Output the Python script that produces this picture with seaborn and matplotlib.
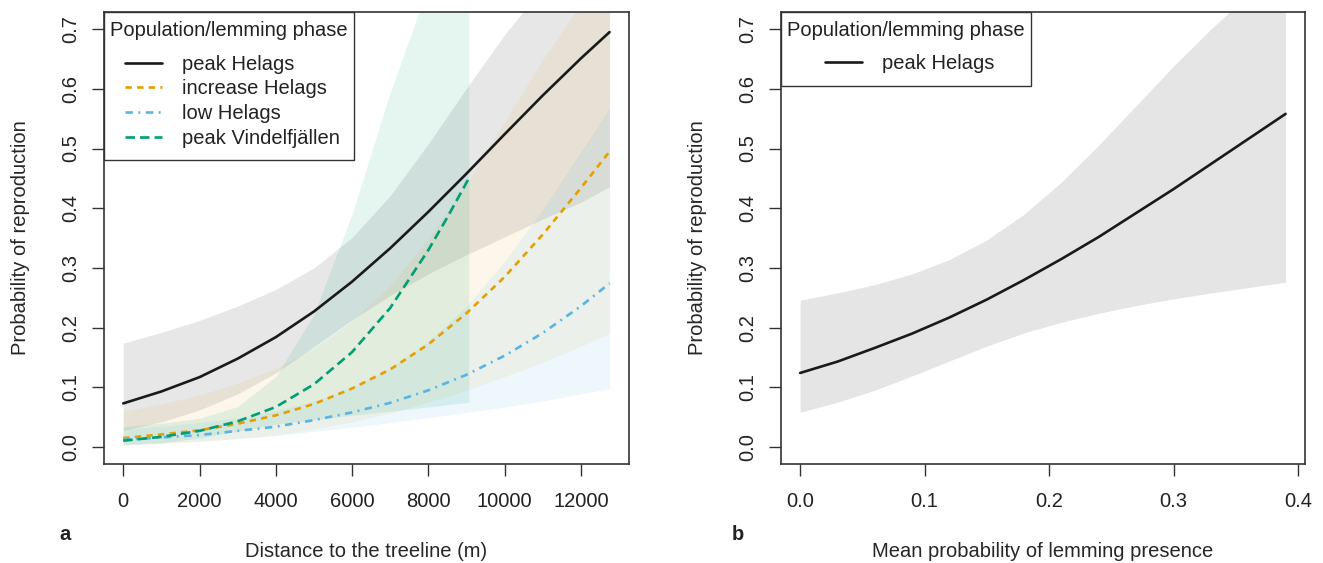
import matplotlib
matplotlib.use("Agg")
import matplotlib.pyplot as plt
from matplotlib.patches import Rectangle
import seaborn as sns
import pandas as pd

# --- panel a: distance to the treeline (m) ---
dist_x = [0, 1000, 2000, 3000, 4000, 5000, 6000, 7000, 8000, 9000, 10000, 11000, 12000, 12750]

peak_helags_fit = [0.073, 0.093, 0.117, 0.148, 0.184, 0.227, 0.277, 0.333, 0.394, 0.458, 0.524, 0.589, 0.651, 0.695]
peak_helags_lo = [0.028, 0.042, 0.062, 0.089, 0.124, 0.168, 0.213, 0.254, 0.290, 0.322, 0.352, 0.382, 0.410, 0.436]
peak_helags_hi = [0.174, 0.192, 0.212, 0.236, 0.264, 0.300, 0.351, 0.421, 0.508, 0.601, 0.691, 0.769, 0.834, 0.872]

increase_fit = [0.015, 0.021, 0.028, 0.039, 0.053, 0.072, 0.098, 0.130, 0.172, 0.224, 0.285, 0.356, 0.434, 0.495]
increase_lo = [0.004, 0.006, 0.009, 0.014, 0.020, 0.030, 0.042, 0.057, 0.075, 0.095, 0.118, 0.142, 0.169, 0.190]
increase_hi = [0.060, 0.072, 0.087, 0.107, 0.132, 0.165, 0.211, 0.271, 0.348, 0.441, 0.545, 0.649, 0.743, 0.803]

low_fit = [0.012, 0.016, 0.020, 0.027, 0.034, 0.045, 0.058, 0.074, 0.095, 0.121, 0.153, 0.191, 0.236, 0.274]
low_lo = [0.005, 0.007, 0.010, 0.014, 0.019, 0.026, 0.033, 0.041, 0.049, 0.058, 0.067, 0.077, 0.089, 0.098]
low_hi = [0.030, 0.035, 0.041, 0.049, 0.061, 0.077, 0.100, 0.132, 0.177, 0.236, 0.311, 0.398, 0.495, 0.568]

vindel_x = [0, 1000, 2000, 3000, 4000, 5000, 6000, 7000, 8000, 8500, 9060]
vindel_fit = [0.0105, 0.017, 0.027, 0.043, 0.067, 0.105, 0.159, 0.233, 0.330, 0.385, 0.450]
vindel_lo = [0.003, 0.007, 0.015, 0.027, 0.038, 0.046, 0.053, 0.060, 0.067, 0.071, 0.075]
vindel_hi = [0.034, 0.040, 0.048, 0.068, 0.118, 0.222, 0.390, 0.594, 0.772, 0.837, 0.892]

# --- panel b: mean probability of lemming presence ---
lemming_x = [0.0, 0.03, 0.06, 0.09, 0.12, 0.15, 0.18, 0.21, 0.24, 0.27, 0.30, 0.33, 0.36, 0.39]
lemming_fit = [0.124, 0.143, 0.166, 0.190, 0.217, 0.247, 0.280, 0.315, 0.352, 0.392, 0.432, 0.474, 0.516, 0.558]
lemming_lo = [0.058, 0.075, 0.095, 0.119, 0.144, 0.169, 0.191, 0.209, 0.224, 0.237, 0.248, 0.258, 0.267, 0.276]
lemming_hi = [0.246, 0.258, 0.272, 0.290, 0.314, 0.347, 0.390, 0.444, 0.506, 0.572, 0.638, 0.700, 0.757, 0.807]

dist_ticks = [0, 2000, 4000, 6000, 8000, 10000, 12000]
lemming_ticks = [0.0, 0.1, 0.2, 0.3, 0.4]
prob_ticks = [0.0, 0.1, 0.2, 0.3, 0.4, 0.5, 0.6, 0.7]

legend_title = "Population/lemming phase"

sns.set_theme(style="ticks")
plt.rcParams["font.family"] = ["Liberation Sans", "DejaVu Sans"]
plt.rcParams["text.color"] = "#222222"

FS = 14.5
INK = "#333333"

series = [
    # label, x, fit, lo, hi, colour, linestyle, band alpha
    ("peak Helags", dist_x, peak_helags_fit, peak_helags_lo, peak_helags_hi, "#1a1a1a", "-", 0.1),
    ("increase Helags", dist_x, increase_fit, increase_lo, increase_hi, "#E69F00", (0, (2.4, 2.0)), 0.08),
    ("low Helags", dist_x, low_fit, low_lo, low_hi, "#56B4E9", (0, (2.8, 2.1, 0.7, 2.1)), 0.1),
    ("peak Vindelfjällen", vindel_x, vindel_fit, vindel_lo, vindel_hi, "#009E73", (0, (3.6, 1.9)), 0.1),
]

W, H = 1323, 563
fig = plt.figure(figsize=(W / 100, H / 100), dpi=100)
top_px, bot_px = 12.4, 463.7
ax1 = fig.add_axes([103.8 / W, 1 - bot_px / H, (629.0 - 103.8) / W, (bot_px - top_px) / H])
ax2 = fig.add_axes([780.7 / W, 1 - bot_px / H, (1305.0 - 780.7) / W, (bot_px - top_px) / H])
AX_H = bot_px - top_px


def style_axes(ax):
    for s in ax.spines.values():
        s.set_visible(True)
        s.set_color(INK)
        s.set_linewidth(1.2)
    ax.set_ylim(-0.028, 0.728)
    ax.set_yticks(prob_ticks)
    ax.set_yticklabels([f"{v:.1f}" for v in prob_ticks])
    ax.tick_params(axis="both", direction="out", length=8.6, width=1.0, color=INK,
                   labelsize=FS, labelcolor="#222222")
    ax.tick_params(axis="x", pad=12)
    ax.tick_params(axis="y", pad=8, labelrotation=90)
    for lbl in ax.get_yticklabels():
        lbl.set_va("center")
    ax.set_ylabel("Probability of reproduction", fontsize=FS, labelpad=23)
    ax.grid(False)


def make_legend(ax, handles, labels, frame_w, frame_h, title_x, entry_x, first_top):
    ax_w = ax.get_position().width * W
    ax.add_patch(Rectangle((0, 1 - frame_h / AX_H), frame_w / ax_w, frame_h / AX_H,
                           transform=ax.transAxes, facecolor="white", edgecolor=INK,
                           linewidth=1.0, zorder=5, clip_on=False))
    ax.text(title_x / ax_w, 1 - 18.3 / AX_H, legend_title, transform=ax.transAxes,
            fontsize=FS, ha="center", va="center", zorder=6)
    leg = ax.legend(handles, labels, loc="upper left",
                    bbox_to_anchor=(entry_x / ax_w, 1 - first_top / AX_H),
                    borderaxespad=0, borderpad=0, frameon=False,
                    fontsize=FS, handlelength=1.84, handletextpad=1.0,
                    labelspacing=0.28)
    leg.set_zorder(7)
    return leg


# panel a
handles = []
for label, xs, fit, lo, hi, col, ls, a in series:
    ax1.fill_between(xs, lo, hi, color=col, alpha=a, linewidth=0)
for label, xs, fit, lo, hi, col, ls, a in series:
    df = pd.DataFrame({"x": xs, "p": fit})
    sns.lineplot(data=df, x="x", y="p", ax=ax1, color=col, linestyle=ls,
                 linewidth=1.9, errorbar=None)
    handles.append(ax1.get_lines()[-1])

ax1.set_xlim(-510, 13260)
ax1.set_xticks(dist_ticks)
ax1.set_xticklabels([str(t) for t in dist_ticks])
style_axes(ax1)
ax1.set_xlabel("Distance to the treeline (m)", fontsize=FS, labelpad=22)
make_legend(ax1, handles, [s[0] for s in series], frame_w=250.5, frame_h=147.6,
            title_x=125.2, entry_x=21.2, first_top=42.3)

# panel b
ax2.fill_between(lemming_x, lemming_lo, lemming_hi, color="black", alpha=0.1, linewidth=0)
df_b = pd.DataFrame({"x": lemming_x, "p": lemming_fit})
sns.lineplot(data=df_b, x="x", y="p", ax=ax2, color="#1a1a1a", linewidth=1.9, errorbar=None)
ax2.set_xlim(-0.0156, 0.4056)
ax2.set_xticks(lemming_ticks)
ax2.set_xticklabels([f"{t:.1f}" for t in lemming_ticks])
style_axes(ax2)
ax2.set_xlabel("Mean probability of lemming presence", fontsize=FS, labelpad=22)
make_legend(ax2, [ax2.get_lines()[-1]], ["peak Helags"], frame_w=250.0, frame_h=73.3,
            title_x=125.0, entry_x=44.3, first_top=41.3)

fig.text(65 / W, 1 - 535 / H, "a", fontsize=FS, fontweight="bold", ha="center", va="center")
fig.text(738 / W, 1 - 535 / H, "b", fontsize=FS, fontweight="bold", ha="center", va="center")

fig.savefig("out.png", dpi=100, facecolor="white")
